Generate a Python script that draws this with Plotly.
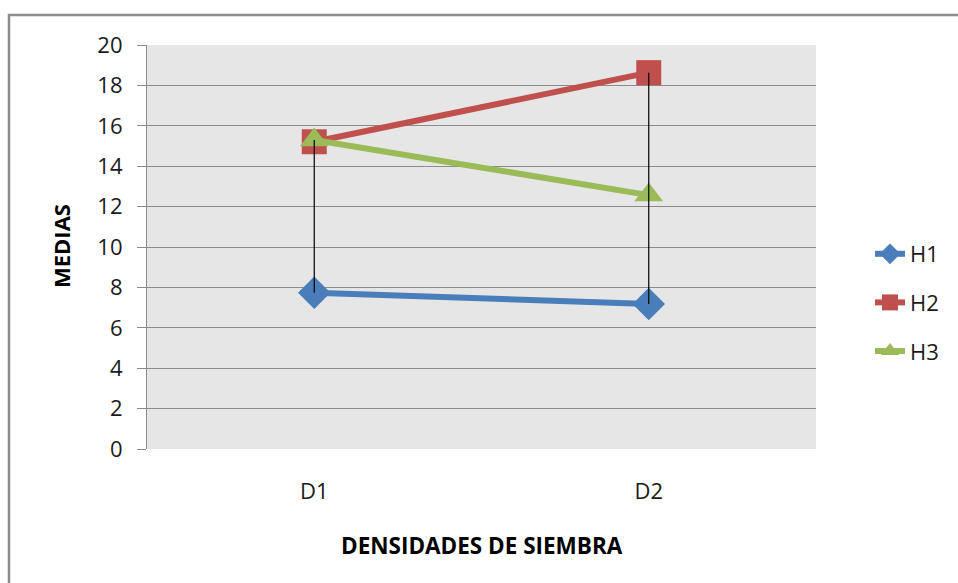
import plotly.graph_objects as go

# Medias por densidad de siembra (D1, D2) para cada híbrido
categorias = ["D1", "D2"]
series = ["H1", "H2", "H3"]
h1 = [7.74, 7.18]
h2 = [15.21, 18.63]
h3 = [15.30, 12.57]
valores = [h1, h2, h3]

colores = ["#4A7EBB", "#C0504D", "#9BBB59"]
simbolos = ["diamond", "square", "triangle-up"]
tamanos = [25, 25, 25]

W, H = 958, 583
L, R, T, B = 147, 816, 45, 449  # plot area in pixels

fig = go.Figure()

for i, (nombre, ys) in enumerate(zip(series, valores)):
    fig.add_trace(go.Scatter(
        x=categorias, y=ys, name=nombre, mode="lines+markers",
        line=dict(color=colores[i], width=6),
        marker=dict(symbol=simbolos[i], size=tamanos[i], color=colores[i],
                    line=dict(width=0)),
        legendgroup=nombre,
    ))

# high-low lines between the minimum and maximum of each category
for j, cat in enumerate(categorias):
    col = [v[j] for v in valores]
    fig.add_trace(go.Scatter(
        x=[cat, cat], y=[min(col), max(col)], mode="lines",
        line=dict(color="black", width=1.2), showlegend=False, hoverinfo="skip",
    ))

def px_x(px):
    return (px - L) / (R - L)

def px_y(py):
    return (B - py) / (B - T)

fig.update_layout(
    width=W, height=H,
    margin=dict(l=L, r=W - R, t=T, b=H - B, autoexpand=False),
    paper_bgcolor="white",
    plot_bgcolor="#E6E6E6",
    font=dict(family="Open Sans", size=22, color="#1a1a1a"),
    showlegend=True,
    legend=dict(
        x=px_x(870), y=px_y(233), xanchor="left", yanchor="top",
        font=dict(size=22, color="#1a1a1a"),
        traceorder="grouped", tracegroupgap=17,
        bgcolor="rgba(0,0,0,0)",
    ),
    xaxis=dict(
        type="category", range=[-0.5, 1.5],
        showgrid=False, zeroline=False,
        showline=False, ticks="",
        ticklabelstandoff=27,
        tickfont=dict(size=22),
    ),
    yaxis=dict(
        range=[0, 20], dtick=2, tick0=0,
        showgrid=True, gridcolor="#8C8C8C", gridwidth=1.2,
        zeroline=False,
        showline=True, linecolor="#8C8C8C", linewidth=1.2,
        ticks="outside", ticklen=9, tickcolor="#8C8C8C", tickwidth=1.2,
        ticklabelstandoff=10,
        tickfont=dict(size=22),
    ),
    shapes=[
        dict(type="rect", xref="paper", yref="paper",
             x0=px_x(9), x1=px_x(975), y0=px_y(15), y1=px_y(600),
             line=dict(color="#8C8C8C", width=2.5), fillcolor="rgba(0,0,0,0)",
             layer="below"),
    ],
    annotations=[
        dict(text="<b>MEDIAS</b>", xref="paper", yref="paper",
             x=px_x(61), y=px_y(246), xanchor="center", yanchor="middle",
             showarrow=False, textangle=-90,
             font=dict(size=22, color="black")),
        dict(text="<b>DENSIDADES DE SIEMBRA</b>", xref="paper", yref="paper",
             x=px_x(482), y=px_y(545), xanchor="center", yanchor="middle",
             showarrow=False,
             font=dict(size=22.5, color="black")),
    ],
)

fig.write_html("out.html")
